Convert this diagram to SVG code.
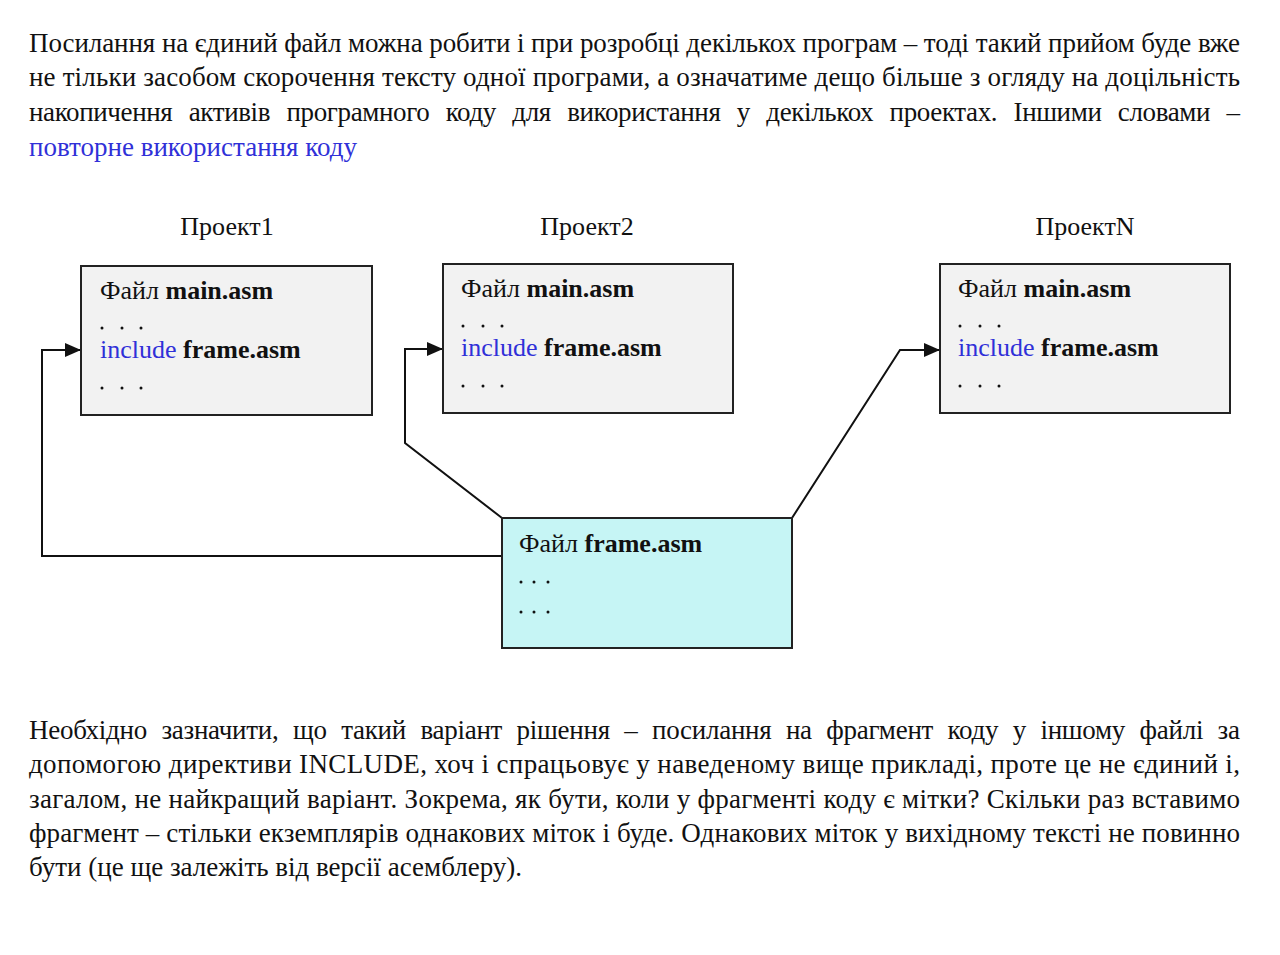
<svg xmlns="http://www.w3.org/2000/svg" width="1280" height="955" viewBox="0 0 1280 955">
<style>
text{font-family:"Liberation Serif","Times New Roman",serif;fill:#111;}
.body{font-size:27px;}
.lbl{font-size:26px;}
.bx{font-size:26px;}
.b{font-weight:bold;}
.blue{fill:#3030d8;}
.box{fill:#f2f2f2;stroke:#222;stroke-width:2;}
.fbox{fill:#c6f5f5;stroke:#222;stroke-width:2;}
.con{fill:none;stroke:#111;stroke-width:2;}
.dot{fill:#111;}
</style>
<defs>
<marker id="arr" markerUnits="userSpaceOnUse" markerWidth="16" markerHeight="14" refX="16" refY="7" orient="auto">
<path d="M0,0 L16,7 L0,14 Z" fill="#111"/>
</marker>
</defs>
<rect width="1280" height="955" fill="#fff"/>

<g id="top-text" class="body">
<text x="29" y="52" textLength="1211" lengthAdjust="spacing">Посилання на єдиний файл можна робити і при розробці декількох програм – тоді такий прийом буде вже</text>
<text x="29" y="86" textLength="1211" lengthAdjust="spacing">не тільки засобом скорочення тексту одної програми, а означатиме дещо більше з огляду на доцільність</text>
<text x="29" y="121" word-spacing="10" textLength="1211" lengthAdjust="spacing">накопичення активів програмного коду для використання у декількох проектах. Іншими словами –</text>
<text x="29" y="156" class="blue">повторне використання коду</text>
</g>

<g id="labels" class="lbl">
<text x="227" y="235" text-anchor="middle">Проект1</text>
<text x="587" y="235" text-anchor="middle">Проект2</text>
<text x="1085" y="235" text-anchor="middle">ПроектN</text>
</g>

<g id="connectors">
<path class="con" d="M502,556 H42 V350 H81" marker-end="url(#arr)"/>
<path class="con" d="M502,518 L405,443 V349 H443" marker-end="url(#arr)"/>
<path class="con" d="M792,518 L900,350 H940" marker-end="url(#arr)"/>
</g>

<g id="project1">
<rect class="box" x="81" y="266" width="291" height="149"/>
<text class="bx" x="100" y="299">Файл <tspan class="b">main.asm</tspan></text>
<circle class="dot" cx="102" cy="328" r="1.5"/><circle class="dot" cx="122" cy="328" r="1.5"/><circle class="dot" cx="141" cy="328" r="1.5"/>
<text class="bx" x="100" y="358"><tspan class="blue">include</tspan> <tspan class="b">frame.asm</tspan></text>
<circle class="dot" cx="102" cy="388" r="1.5"/><circle class="dot" cx="122" cy="388" r="1.5"/><circle class="dot" cx="141" cy="388" r="1.5"/>
</g>

<g id="project2">
<rect class="box" x="443" y="264" width="290" height="149"/>
<text class="bx" x="461" y="297">Файл <tspan class="b">main.asm</tspan></text>
<circle class="dot" cx="463" cy="326" r="1.5"/><circle class="dot" cx="483" cy="326" r="1.5"/><circle class="dot" cx="502" cy="326" r="1.5"/>
<text class="bx" x="461" y="356"><tspan class="blue">include</tspan> <tspan class="b">frame.asm</tspan></text>
<circle class="dot" cx="463" cy="386" r="1.5"/><circle class="dot" cx="483" cy="386" r="1.5"/><circle class="dot" cx="502" cy="386" r="1.5"/>
</g>

<g id="projectN">
<rect class="box" x="940" y="264" width="290" height="149"/>
<text class="bx" x="958" y="297">Файл <tspan class="b">main.asm</tspan></text>
<circle class="dot" cx="960" cy="326" r="1.5"/><circle class="dot" cx="980" cy="326" r="1.5"/><circle class="dot" cx="999" cy="326" r="1.5"/>
<text class="bx" x="958" y="356"><tspan class="blue">include</tspan> <tspan class="b">frame.asm</tspan></text>
<circle class="dot" cx="960" cy="386" r="1.5"/><circle class="dot" cx="980" cy="386" r="1.5"/><circle class="dot" cx="999" cy="386" r="1.5"/>
</g>

<g id="frame">
<rect class="fbox" x="502" y="518" width="290" height="130"/>
<text class="bx" x="519" y="552">Файл <tspan class="b">frame.asm</tspan></text>
<circle class="dot" cx="521" cy="582" r="1.5"/><circle class="dot" cx="534" cy="582" r="1.5"/><circle class="dot" cx="548" cy="582" r="1.5"/>
<circle class="dot" cx="521" cy="612" r="1.5"/><circle class="dot" cx="534" cy="612" r="1.5"/><circle class="dot" cx="548" cy="612" r="1.5"/>
</g>

<g id="bottom-text" class="body">
<text x="29" y="739" word-spacing="8" textLength="1211" lengthAdjust="spacing">Необхідно зазначити, що такий варіант рішення – посилання на фрагмент коду у іншому файлі за</text>
<text x="29" y="773" textLength="1211" lengthAdjust="spacing">допомогою директиви INCLUDE, хоч і спрацьовує у наведеному вище прикладі, проте це не єдиний і,</text>
<text x="29" y="808" textLength="1211" lengthAdjust="spacing">загалом, не найкращий варіант. Зокрема, як бути, коли у фрагменті коду є мітки? Скільки раз вставимо</text>
<text x="29" y="842" textLength="1211" lengthAdjust="spacing">фрагмент – стільки екземплярів однакових міток і буде. Однакових міток у вихідному тексті не повинно</text>
<text x="29" y="876">бути (це ще залежіть від версії асемблеру).</text>
</g>
</svg>
